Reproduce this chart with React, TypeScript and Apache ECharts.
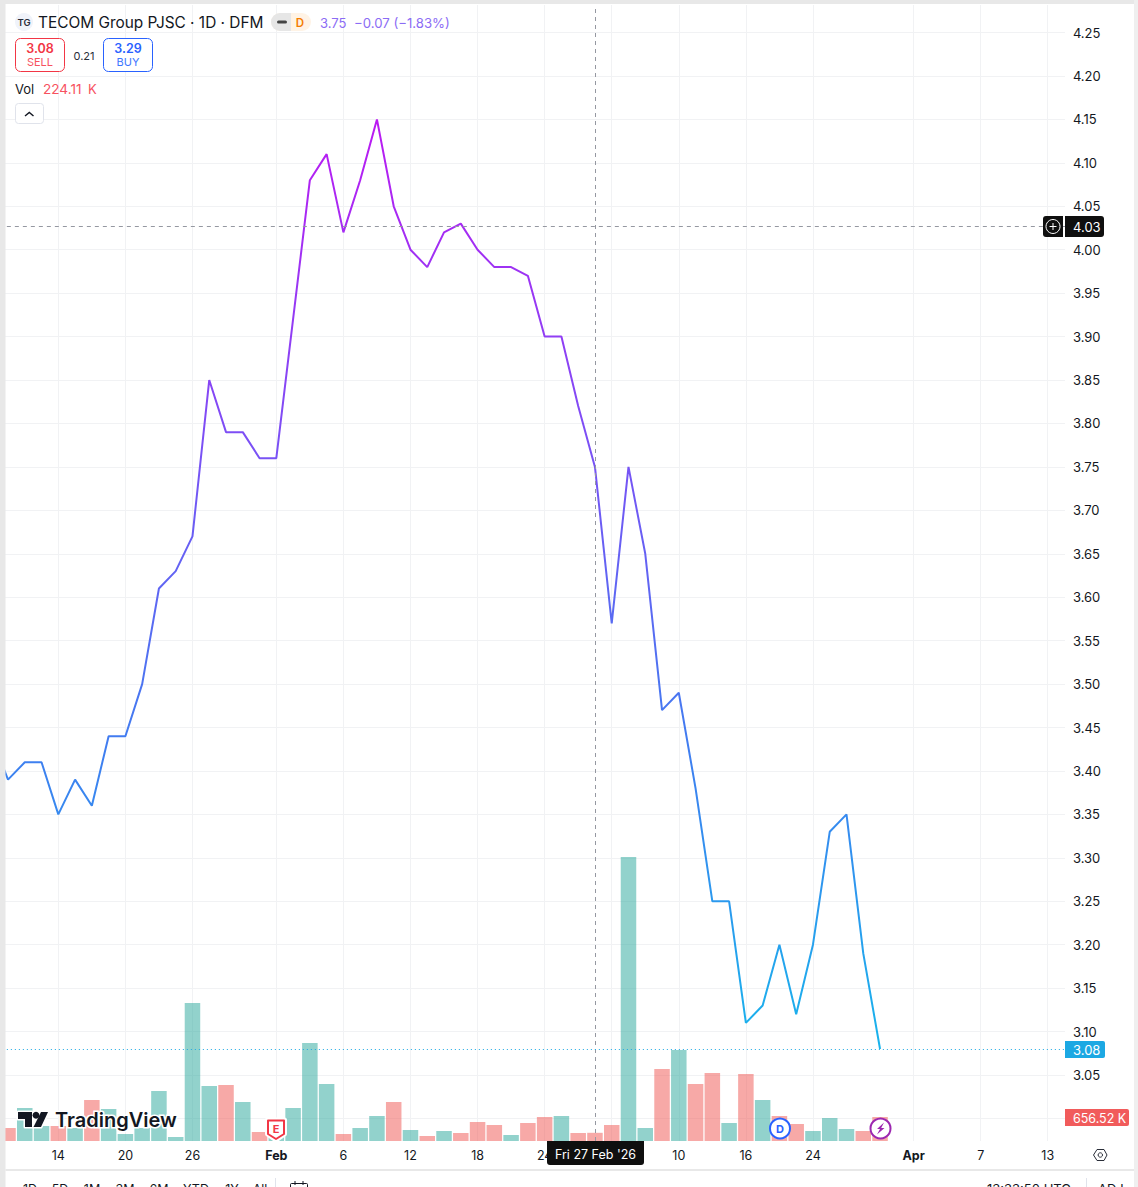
import React, { useEffect, useRef } from "react";
import * as echarts from "echarts";

const FONT = "Inter, 'Noto Sans', sans-serif";

const dates = [
  "Jan 8", "Jan 9", "Jan 12", "Jan 13", "Jan 14", "Jan 15", "Jan 16", "Jan 19", "Jan 20", "Jan 21", "Jan 22", "Jan 23",
  "Jan 26", "Jan 27", "Jan 28", "Jan 29", "Jan 30", "Feb 2", "Feb 3", "Feb 4", "Feb 5", "Feb 6", "Feb 9", "Feb 10",
  "Feb 11", "Feb 12", "Feb 13", "Feb 16", "Feb 17", "Feb 18", "Feb 19", "Feb 20", "Feb 23", "Feb 24", "Feb 25", "Feb 26",
  "Feb 27", "Mar 2", "Mar 3", "Mar 4", "Mar 5", "Mar 10", "Mar 11", "Mar 12", "Mar 13", "Mar 16", "Mar 17", "Mar 18",
  "Mar 19", "Mar 24", "Mar 25", "Mar 26", "Mar 27", "Mar 30", "Mar 31", "Apr 1", "Apr 2", "Apr 3", "Apr 6", "Apr 7",
  "Apr 8", "Apr 9", "Apr 10", "Apr 13", "Apr 14",
];

// "Mar 2" keeps its grid line, its label is hidden by the crosshair date in the reference
const tickLabels: Record<string, string> = {
  "Jan 14": "14", "Jan 20": "20", "Jan 26": "26", "Feb 2": "Feb", "Feb 6": "6", "Feb 12": "12", "Feb 18": "18",
  "Feb 24": "24", "Mar 2": "", "Mar 10": "10", "Mar 16": "16", "Mar 24": "24", "Apr 1": "Apr", "Apr 7": "7", "Apr 13": "13",
};
const monthLabels = ["Feb", "Mar", "Apr"];

const closes = [
  3.44, 3.39, 3.41, 3.41, 3.35, 3.39, 3.36, 3.44, 3.44, 3.5, 3.61, 3.63, 3.67, 3.85, 3.79, 3.79, 3.76, 3.76, 3.92, 4.08,
  4.11, 4.02, 4.08, 4.15, 4.05, 4.0, 3.98, 4.02, 4.03, 4.0, 3.98, 3.98, 3.97, 3.9, 3.9, 3.82, 3.75, 3.57, 3.75, 3.65,
  3.47, 3.49, 3.38, 3.25, 3.25, 3.11, 3.13, 3.2, 3.12, 3.2, 3.33, 3.35, 3.19, 3.08,
];

const volumesK = [
  260, 356, 903, 410, 410, 356, 1121, 875, 191, 356, 1368, 109, 3774, 1504, 1532, 1067, 246, 164, 903, 2680, 1559, 191,
  356, 684, 1067, 301, 137, 274, 219, 520, 438, 164, 492, 656, 684, 219, 224.11, 438, 7767, 356, 1969, 2489, 1559, 1860,
  492, 1832, 1121, 684, 465, 274, 629, 328, 274, 656.52,
];

const volumeDown = [
  1, 1, 0, 0, 1, 0, 1, 0, 0, 0, 0, 0, 0, 0, 1, 0, 1, 0, 0, 0, 0, 1, 0, 0, 1, 0, 1, 0, 1, 1, 1, 0, 1, 1, 0, 1, 1, 1, 0, 0,
  1, 0, 1, 1, 0, 1, 0, 1, 1, 0, 0, 0, 1, 1,
];

const priceMin = 2.95;
const priceMax = 4.3;
const priceStep = 0.05;
const hiddenPriceLabel = "3.00";
const lastPrice = 3.08;
const crosshairPrice = 4.027;
const crosshairDate = "Feb 27";

const rangeButtons: [string, number][] = [
  ["1D", 30], ["5D", 60], ["1M", 92], ["3M", 125], ["6M", 159], ["YTD", 196], ["1Y", 232], ["All", 260],
];

const Z = 100;
const txt = (text: string, x: number, y: number, fontSize: number, fill: string, extra: any = {}) => ({
  type: "text",
  z: Z + 3,
  silent: true,
  style: { text, x, y, fontSize, fill, fontFamily: FONT, align: "left", verticalAlign: "middle", ...extra },
});
const box = (x: number, y: number, width: number, height: number, fill: string, r: any = 0, stroke?: string, z = Z + 1) => ({
  type: "rect",
  z,
  silent: true,
  shape: { x, y, width, height, r },
  style: stroke ? { fill, stroke, lineWidth: 1 } : { fill },
});
const poly = (points: number[][], style: any, z = Z + 2) => ({ type: "polygon", z, silent: true, shape: { points }, style });
const circ = (cx: number, cy: number, r: number, style: any, z = Z + 2) => ({ type: "circle", z, silent: true, shape: { cx, cy, r }, style });
const seg = (x1: number, y1: number, x2: number, y2: number, stroke: string, lineWidth = 1) => ({
  type: "line",
  z: Z + 2,
  silent: true,
  shape: { x1, y1, x2, y2 },
  style: { stroke, lineWidth },
});

const logoParts = [
  { pts: [[18, 1112], [32, 1112], [32, 1127], [25, 1127], [25, 1119], [18, 1119]] },
  { pts: [[41, 1112], [48, 1112], [41, 1127], [33.5, 1127]] },
];

function buildGraphics() {
  const els: any[] = [];
  const GRAY = "#e8e8e8";
  // page frame
  els.push(box(0, 0, 5.5, 1187, GRAY, 0, undefined, Z));
  els.push(box(0, 0, 1138, 4, GRAY, 0, undefined, Z));
  els.push(box(1134, 0, 4, 1187, "#efefef", 0, undefined, Z));
  els.push(box(1065, 4, 8, 1165, "#ffffff", 0, undefined, Z));
  els.push(box(5.5, 1169, 1128.5, 2, GRAY, 0, undefined, Z));

  // header
  els.push(circ(24, 22, 9, { fill: "#f0f3fa" }));
  els.push(txt("TG", 24, 22.5, 9.5, "#2a2e39", { align: "center", fontWeight: 600 }));
  els.push(txt("TECOM Group PJSC · 1D · DFM", 38, 22.5, 15.4, "#131722"));
  els.push(box(271, 13, 40, 18, "#fff3e5", 9));
  els.push(box(271, 13, 20, 18, "#e6e6e6", [9, 0, 0, 9], undefined, Z + 2));
  els.push(box(277, 20.5, 10, 3, "#444444", 1.5, undefined, Z + 3));
  els.push(txt("D", 300, 22.5, 11.5, "#f57c00", { align: "center", fontWeight: 600 }));
  els.push(txt("3.75", 320, 22.5, 13, "#8b6cf5"));
  els.push(txt("−0.07 (−1.83%)", 354, 22.5, 13.2, "#8b6cf5"));

  els.push(box(15.5, 38.5, 49, 33, "#ffffff", 5, "#f23645"));
  els.push(txt("3.08", 40, 48, 12.5, "#f23645", { align: "center", fontWeight: 600 }));
  els.push(txt("SELL", 40, 62, 11, "#f7525f", { align: "center" }));
  els.push(txt("0.21", 84, 56, 11, "#2a2e39", { align: "center" }));
  els.push(box(103.5, 38.5, 49, 33, "#ffffff", 5, "#2962ff"));
  els.push(txt("3.29", 128, 48, 12.5, "#2962ff", { align: "center", fontWeight: 600 }));
  els.push(txt("BUY", 128, 62, 11, "#3d76ff", { align: "center" }));

  els.push(txt("Vol", 15, 88.5, 13, "#131722"));
  els.push(txt("224.11", 43, 88.5, 13.6, "#f7525f"));
  els.push(txt("K", 88, 88.5, 13, "#f7525f"));
  els.push(box(15.5, 103.5, 28, 20, "#ffffff", 3, "#e0e3eb"));
  els.push({
    type: "polyline",
    z: Z + 2,
    silent: true,
    shape: { points: [[25, 116], [29.3, 112.5], [33.5, 116]] },
    style: { stroke: "#131722", lineWidth: 1.4, fill: "none" },
  });

  // crosshair labels on axes
  els.push(box(1043, 216, 20, 21, "#0f0f0f", [3, 0, 0, 3]));
  els.push(circ(1053, 226.5, 7, { fill: "none", stroke: "#ffffff", lineWidth: 1 }));
  els.push(seg(1049.5, 226.5, 1056.5, 226.5, "#ffffff"));
  els.push(seg(1053, 223, 1053, 230, "#ffffff"));
  els.push(box(1065, 216, 39, 21, "#0f0f0f", [0, 3, 3, 0]));
  els.push(txt("4.03", 1073, 226.7, 13, "#ffffff"));
  els.push(box(547, 1141, 97, 24, "#0f0f0f", [0, 0, 3, 3]));
  els.push(txt("Fri 27 Feb '26", 595.5, 1154.5, 12.5, "#ffffff", { align: "center" }));

  // last value tags
  els.push(box(1065, 1041, 40, 17, "#1ca8e3", [0, 2, 2, 0]));
  els.push(txt("3.08", 1073, 1050, 13, "#ffffff"));
  els.push(box(1065, 1109, 64, 17, "#f15b5b", [0, 2, 2, 0]));
  els.push(txt("656.52 K", 1073, 1118, 12.5, "#ffffff"));

  // TradingView watermark
  logoParts.forEach((p) => els.push(poly(p.pts, { fill: "#ffffff", stroke: "#ffffff", lineWidth: 3, lineJoin: "round" }, Z + 1)));
  els.push(circ(36, 1115.3, 3.4, { fill: "#ffffff", stroke: "#ffffff", lineWidth: 3 }, Z + 1));
  logoParts.forEach((p) => els.push(poly(p.pts, { fill: "#131722" })));
  els.push(circ(36, 1115.3, 3.4, { fill: "#131722" }));
  els.push(txt("TradingView", 55, 1120, 20, "#131722", { fontWeight: 600, stroke: "#ffffff", lineWidth: 3 }));

  // event markers
  els.push(poly([[267.5, 1120], [284.5, 1120], [284.5, 1134], [276, 1140], [267.5, 1134]], { fill: "#ffffff", stroke: "#ffffff", lineWidth: 5, lineJoin: "round" }, Z + 1));
  els.push(poly([[268, 1120.5], [284, 1120.5], [284, 1134], [276, 1139], [268, 1134]], { fill: "#ffffff", stroke: "#f23645", lineWidth: 2, lineJoin: "round" }));
  els.push(txt("E", 276, 1129, 11, "#f23645", { align: "center", fontWeight: 700 }));
  els.push(circ(780, 1128.5, 10, { fill: "#ffffff", stroke: "#2962ff", lineWidth: 2 }));
  els.push(txt("D", 780, 1129, 11, "#2962ff", { align: "center", fontWeight: 700 }));
  els.push(circ(880.5, 1128.5, 10, { fill: "#ffffff", stroke: "#9c27b0", lineWidth: 2 }));
  els.push(poly([[884, 1122.5], [877, 1129], [880, 1129], [877, 1134.5], [884.5, 1128], [881.2, 1128]], { fill: "#9c27b0" }));

  // settings hexagon
  els.push(poly([[1093.5, 1155], [1097, 1149.5], [1104, 1149.5], [1107, 1155], [1104, 1160.5], [1097, 1160.5]], { fill: "none", stroke: "#2a2e39", lineWidth: 1 }));
  els.push(circ(1100.3, 1155, 2.2, { fill: "none", stroke: "#2a2e39", lineWidth: 1 }));

  // bottom toolbar, cropped by the page edge
  rangeButtons.forEach(([t, x]) => els.push(txt(t, x, 1189, 12.5, "#131722", { align: "center" })));
  els.push(seg(275.5, 1178, 275.5, 1187, "#e0e3eb"));
  els.push(box(290.5, 1183.5, 17, 10, "#ffffff", 1, "#131722"));
  els.push(seg(295, 1181, 295, 1185, "#131722"));
  els.push(seg(303, 1181, 303, 1185, "#131722"));
  els.push(txt("13:33:50 UTC", 987, 1188.5, 13, "#131722"));
  els.push(seg(1086.5, 1178, 1086.5, 1187, "#e0e3eb"));
  els.push(txt("ADJ", 1098, 1188.5, 13, "#131722"));
  return els;
}

export default function App() {
  const ref = useRef<HTMLDivElement>(null);
  useEffect(() => {
    const chart = echarts.init(ref.current!, undefined, { renderer: "svg" });
    const gridLeft = -17.155;
    const gridWidth = 1090.05;
    const gridLine = { show: true, lineStyle: { color: "#f1f2f4", width: 1 } };
    chart.setOption({
      animation: false,
      backgroundColor: "#ffffff",
      graphic: { elements: buildGraphics() },
      grid: [
        { left: gridLeft, width: gridWidth, top: -10.9, height: 1172.8, outerBoundsMode: "none" },
        { left: gridLeft, width: gridWidth, top: 5, height: 1136, outerBoundsMode: "none" },
      ],
      xAxis: [
        { type: "category", gridIndex: 0, data: dates, show: false },
        {
          type: "category",
          gridIndex: 1,
          data: dates,
          axisLine: { show: false },
          axisTick: { show: false },
          splitLine: {
            ...gridLine,
            alignWithLabel: true,
            interval: (_: number, v: string) => v in tickLabels,
          },
          axisLabel: {
            margin: 8,
            interval: (_: number, v: string) => v in tickLabels,
            formatter: (v: string) => {
              const t = tickLabels[v] ?? "";
              return monthLabels.includes(t) ? `{b|${t}}` : t;
            },
            color: "#131722",
            fontFamily: FONT,
            fontSize: 12.5,
            rich: { b: { fontWeight: 700, fontSize: 12.5, fontFamily: FONT, color: "#131722" } },
          },
        },
      ],
      yAxis: [
        {
          type: "value",
          gridIndex: 0,
          position: "right",
          min: priceMin,
          max: priceMax,
          interval: priceStep,
          axisLine: { show: false },
          axisTick: { show: false },
          splitLine: { ...gridLine, showMinLine: false, showMaxLine: false },
          axisLabel: {
            margin: 0,
            showMinLabel: false,
            showMaxLabel: false,
            color: "#131722",
            fontFamily: FONT,
            fontSize: 13,
            align: "left",
            formatter: (v: number) => (v.toFixed(2) === hiddenPriceLabel ? "" : v.toFixed(2)),
          },
        },
        { type: "value", gridIndex: 1, min: 0, max: 31070, show: false },
      ],
      series: [
        {
          type: "bar",
          name: "Vol",
          xAxisIndex: 1,
          yAxisIndex: 1,
          barWidth: 15.5,
          z: 2,
          data: volumesK.map((v, i) => ({
            value: v,
            itemStyle: { color: volumeDown[i] ? "rgba(239,83,80,0.5)" : "rgba(38,166,154,0.5)" },
          })),
          markLine: {
            silent: true,
            symbol: "none",
            animation: false,
            label: { show: false },
            lineStyle: { color: "#9598a1", width: 1, type: [4, 4] },
            data: [{ xAxis: crosshairDate }],
          },
        },
        {
          type: "line",
          name: "TECOM",
          xAxisIndex: 0,
          yAxisIndex: 0,
          z: 3,
          symbol: "none",
          data: closes,
          lineStyle: {
            width: 2,
            color: new echarts.graphic.LinearGradient(0, 0, 0, 1, [
              { offset: 0, color: "#bb19f2" },
              { offset: 0.35, color: "#7b50f5" },
              { offset: 0.68, color: "#3f7ef0" },
              { offset: 1, color: "#18b4ec" },
            ]),
          },
          markLine: {
            silent: true,
            symbol: "none",
            animation: false,
            precision: 3,
            label: { show: false },
            data: [
              { yAxis: crosshairPrice, lineStyle: { color: "#9598a1", width: 1, type: [4, 4] } },
              { yAxis: lastPrice, lineStyle: { color: "#1ca8e3", width: 1, type: [1, 3] } },
            ],
          },
        },
      ],
    });
    return () => chart.dispose();
  }, []);
  return (
    <div
      ref={ref}
      style={{ position: "fixed", left: 0, top: 0, width: 1138, height: 1187, background: "#fff", overflow: "hidden" }}
    />
  );
}
